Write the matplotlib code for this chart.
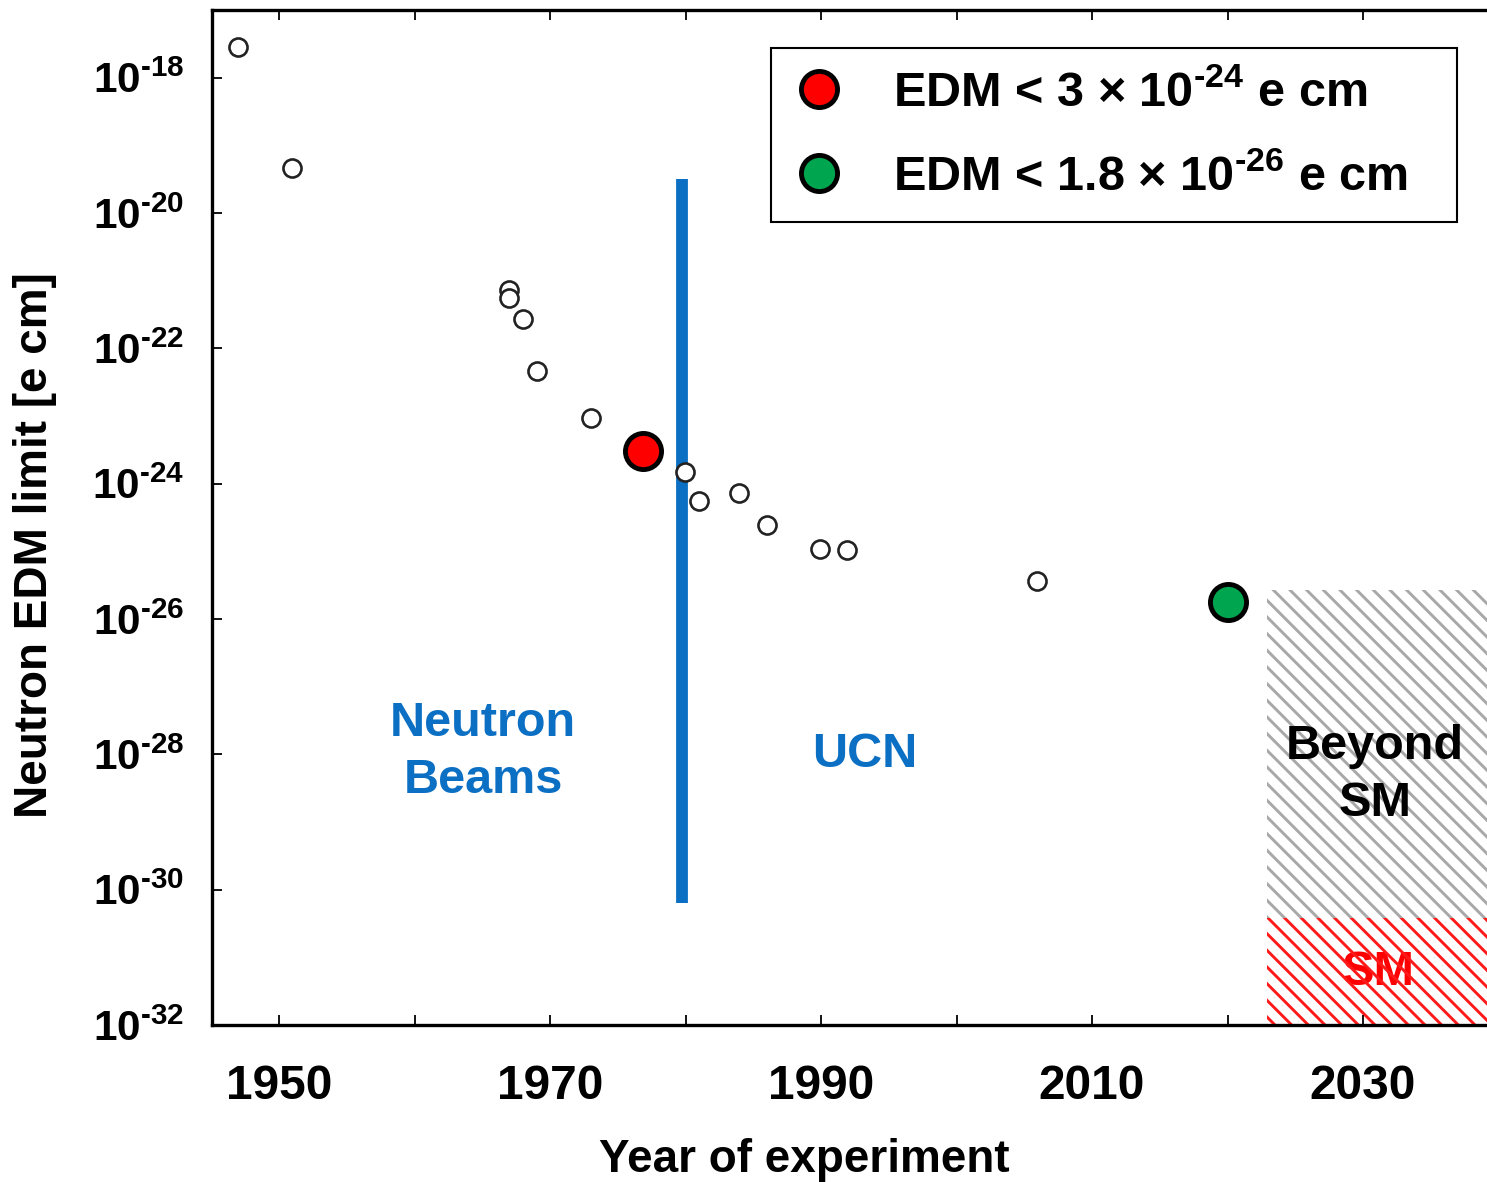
import matplotlib
matplotlib.use("Agg")
import matplotlib.pyplot as plt
from matplotlib.lines import Line2D

plt.rcParams['font.family'] = ['Liberation Sans', 'DejaVu Sans']
plt.rcParams['font.weight'] = 'bold'
plt.rcParams['mathtext.fontset'] = 'custom'
plt.rcParams['mathtext.rm'] = 'Liberation Sans:bold'
plt.rcParams['mathtext.bf'] = 'Liberation Sans:bold'
plt.rcParams['mathtext.it'] = 'Liberation Sans:bold'
plt.rcParams['mathtext.default'] = 'bf'
plt.rcParams['hatch.linewidth'] = 2.1

# past experimental limits (open circles)
years = [1946.97, 1950.96, 1966.97, 1966.97, 1968.0, 1969.04, 1973.03,
         1979.96, 1980.99, 1983.95, 1986.0, 1989.93, 1991.92, 2005.94]
limits = [2.8e-18, 4.7e-20, 7.4e-22, 5.5e-22, 2.75e-22, 4.6e-23, 9.3e-24,
          1.5e-24, 5.5e-25, 7.4e-25, 2.45e-25, 1.1e-25, 1.05e-25, 3.7e-26]

# highlighted results
red_year, red_limit = 1976.86, 3e-24
green_year, green_limit = 2020.0, 1.8e-26
legend_labels = ['EDM < 3 × 10$^{\u201024}$ e cm',
                 'EDM < 1.8 × 10$^{\u201026}$ e cm\u2002\u2002']

# beam / UCN divider and SM regions
divider_year = 1979.74
divider_range = [3.2e-20, 6.3e-31]
region_years = [2022.9, 2039.3]
bsm_range = [3.8e-31, 2.7e-26]
sm_range = [1e-32, 3.8e-31]

xticks = [1950, 1960, 1970, 1980, 1990, 2000, 2010, 2020, 2030]
xticklabels = ['1950', '', '1970', '', '1990', '', '2010', '', '2030']
yticks = [1e-32, 1e-30, 1e-28, 1e-26, 1e-24, 1e-22, 1e-20, 1e-18]
yticklabels = ['$10^{\u2010%d}$' % e for e in [32, 30, 28, 26, 24, 22, 20, 18]]

blue = '#0b6fc4'

fig = plt.figure(figsize=(14.87, 11.82), dpi=100)
ax = fig.add_axes([212/1487, 1 - 1025/1182, 1277/1487, 1015/1182])
ax.set_yscale('log')
ax.set_xlim(1945.05, 2039.3)
ax.set_ylim(1e-32, 1e-17)

# hatched regions
ax.fill_between(region_years, bsm_range[0], bsm_range[1], facecolor='none',
                edgecolor='#a8a8a8', hatch='\\\\', linewidth=0, zorder=1)
ax.fill_between(region_years, sm_range[0], sm_range[1], facecolor='none',
                edgecolor='#ff1a1a', hatch='\\\\', linewidth=0, zorder=1)

# divider
ax.plot([divider_year, divider_year], divider_range, color=blue, lw=8.5,
        solid_capstyle='butt', zorder=2)

ax.plot(years, limits, 'o', ms=13, mfc='white', mec='#222222', mew=1.9, zorder=3)
ax.plot([red_year], [red_limit], 'o', ms=26, mfc='#ff0000', mec='black', mew=3.5, zorder=4)
ax.plot([green_year], [green_limit], 'o', ms=26, mfc='#00a550', mec='black', mew=3.5, zorder=4)

ax.text(1965.05, 10**-27.97, 'Neutron\nBeams', color=blue, fontsize=35,
        ha='center', va='center', linespacing=1.35)
ax.text(1993.25, 10**-28.0, 'UCN', color=blue, fontsize=35, ha='center', va='center')
ax.text(2030.9, 10**-28.3, 'Beyond\nSM', color='black', fontsize=35,
        ha='center', va='center', linespacing=1.35)
ax.text(2031.1, 10**-31.22, 'SM', color='#ff0000', fontsize=35, ha='center', va='center',
        zorder=0.5)

ax.set_xticks(xticks)
ax.set_xticklabels(xticklabels, fontsize=34.5)
ax.set_yticks(yticks)
ax.set_yticklabels(yticklabels, fontsize=30.5)
ax.minorticks_off()
ax.tick_params(direction='in', top=True, right=False, length=7, width=1.3)
ax.tick_params(axis='x', pad=28)
ax.tick_params(axis='y', pad=20)
for s in ax.spines.values():
    s.set_linewidth(2.4)

ax.set_xlabel('Year of experiment', fontsize=33, fontweight='bold')
ax.xaxis.set_label_coords(0.464, -0.111)
ax.set_ylabel('Neutron EDM limit [e cm]', fontsize=33, fontweight='bold')
ax.yaxis.set_label_coords(-0.121, 0.473)

handles = [Line2D([], [], ls='none', marker='o', ms=26, mfc='#ff0000', mec='black', mew=3.5),
           Line2D([], [], ls='none', marker='o', ms=26, mfc='#00a550', mec='black', mew=3.5)]
leg = ax.legend(handles, legend_labels, loc='upper right', bbox_to_anchor=(0.975, 0.9625),
                borderaxespad=0, fontsize=35, fancybox=False, edgecolor='black',
                framealpha=1, borderpad=0.45, handlelength=1.1, handletextpad=0.97,
                labelspacing=0.78)
leg.get_frame().set_linewidth(1.5)

fig.savefig('out.png', dpi=100)
